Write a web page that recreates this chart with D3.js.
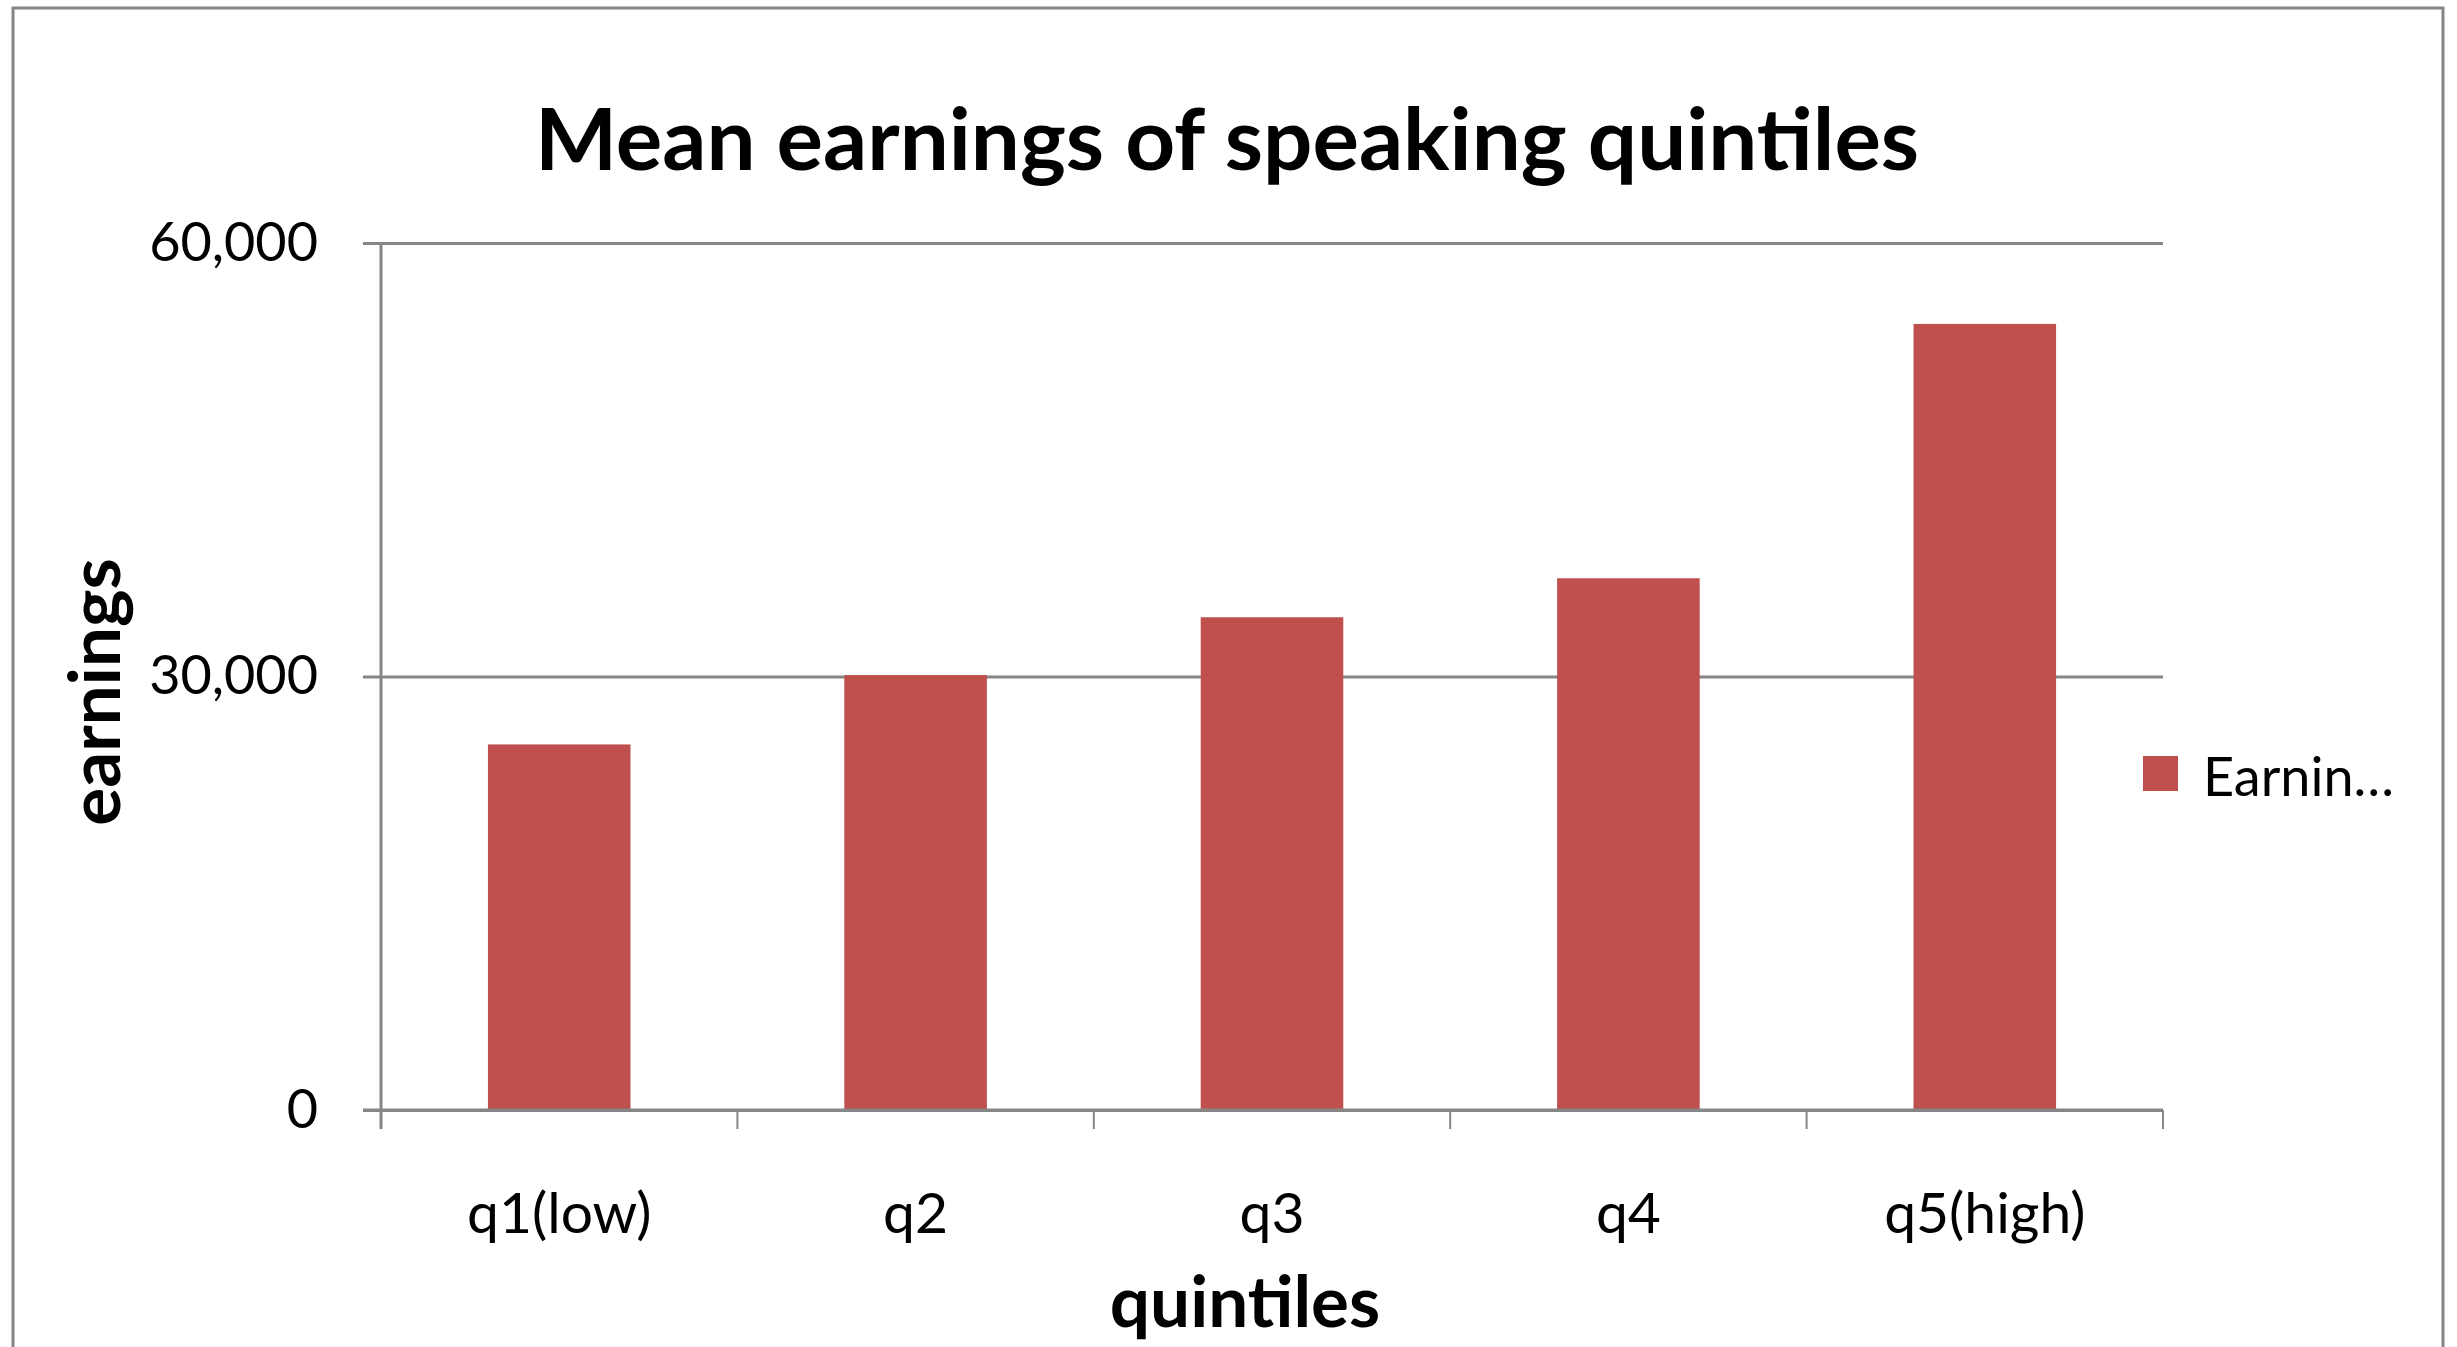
<!DOCTYPE html>
<html lang="en">
<head>
<meta charset="UTF-8">
<title>Mean earnings of speaking quintiles</title>
<script src="https://cdn.jsdelivr.net/npm/d3@7"></script>
<style>
    body { margin: 0; background: #ffffff; }
    svg { display: block; }
</style>
</head>
<body>
<div id="container"></div>
<script>
    // data
    let categories = ["q1(low)", "q2", "q3", "q4", "q5(high)"]
    let earnings = [25300, 30100, 34100, 36800, 54400]
    let yTicks = [0, 30000, 60000]
    let seriesName = "Earnin\u2026"

    let width = 2457
    let height = 1347
    let plotLeft = 381, plotRight = 2163, plotTop = 243, plotBottom = 1110
    let axisColor = "#868686"
    let barColor = "#C0504D"
    let font = "Lato, 'Noto Sans', sans-serif"

    let svg = d3.select("#container")
        .append("svg")
        .attr("width", width)
        .attr("height", height)

    // outer chart frame (bottom edge is cut off in the picture)
    svg.append("path")
        .attr("d", "M13," + height + " V8 H2443 V" + height)
        .attr("fill", "none")
        .attr("stroke", axisColor)
        .attr("stroke-width", 3)

    let x = d3.scaleBand()
        .domain(categories)
        .range([plotLeft, plotRight])
        .paddingInner(0.6)
        .paddingOuter(0.3)

    let y = d3.scaleLinear()
        .domain([0, 60000])
        .range([plotBottom, plotTop])

    // gridlines
    svg.append("g")
        .attr("transform", "translate(" + plotLeft + ",0)")
        .call(d3.axisLeft(y).tickValues(yTicks).tickSize(-(plotRight - plotLeft)).tickFormat(""))
        .call(g => g.select(".domain").remove())
        .call(g => g.selectAll("line").attr("stroke", axisColor).attr("stroke-width", 3))

    // y axis with labels
    svg.append("g")
        .attr("transform", "translate(" + plotLeft + ",0)")
        .call(d3.axisLeft(y).tickValues(yTicks).tickSize(18).tickPadding(45)
            .tickFormat(d3.format(",")))
        .call(g => g.select(".domain").remove())
        .call(g => g.selectAll("line").attr("stroke", axisColor).attr("stroke-width", 3))
        .call(g => g.selectAll("text")
            .attr("font-family", font)
            .attr("font-size", 54)
            .attr("fill", "#000"))

    // vertical axis line
    svg.append("line")
        .attr("x1", plotLeft).attr("x2", plotLeft)
        .attr("y1", plotTop).attr("y2", plotBottom + 19)
        .attr("stroke", axisColor)
        .attr("stroke-width", 3)

    // bars
    svg.selectAll("rect.bar")
        .data(earnings)
        .enter()
        .append("rect")
        .attr("class", "bar")
        .attr("x", (d, i) => x(categories[i]))
        .attr("y", d => y(d))
        .attr("width", x.bandwidth())
        .attr("height", d => y(0) - y(d))
        .attr("fill", barColor)

    // x axis line over the bars' bottom
    svg.append("line")
        .attr("x1", plotLeft - 18).attr("x2", plotRight)
        .attr("y1", plotBottom).attr("y2", plotBottom)
        .attr("stroke", axisColor)
        .attr("stroke-width", 3)

    // category boundary ticks
    let bounds = d3.range(categories.length + 1).map(i => plotLeft + i * x.step())
    svg.selectAll("line.xtick")
        .data(bounds)
        .enter()
        .append("line")
        .attr("class", "xtick")
        .attr("x1", d => d).attr("x2", d => d)
        .attr("y1", plotBottom).attr("y2", plotBottom + 19)
        .attr("stroke", axisColor)
        .attr("stroke-width", 2)

    // category labels
    svg.append("g")
        .attr("transform", "translate(0," + plotBottom + ")")
        .call(d3.axisBottom(x).tickSize(0))
        .call(g => g.select(".domain").remove())
        .call(g => g.selectAll("text")
            .attr("y", 123)
            .attr("dy", null)
            .attr("font-family", font)
            .attr("font-size", 57)
            .attr("fill", "#000"))

    // title
    svg.append("text")
        .attr("x", 1227)
        .attr("y", 170)
        .attr("text-anchor", "middle")
        .attr("font-family", font)
        .attr("font-weight", "bold")
        .attr("font-size", 87)
        .text("Mean earnings of speaking quintiles")

    // axis titles
    svg.append("text")
        .attr("x", 1245)
        .attr("y", 1327)
        .attr("text-anchor", "middle")
        .attr("font-family", font)
        .attr("font-weight", "bold")
        .attr("font-size", 71)
        .text("quintiles")

    svg.append("text")
        .attr("transform", "translate(120,692) rotate(-90)")
        .attr("text-anchor", "middle")
        .attr("font-family", font)
        .attr("font-weight", "bold")
        .attr("font-size", 71)
        .text("earnings")

    // legend
    svg.append("rect")
        .attr("x", 2143)
        .attr("y", 756)
        .attr("width", 35)
        .attr("height", 35)
        .attr("fill", barColor)

    svg.append("text")
        .attr("x", 2203)
        .attr("y", 796)
        .attr("font-family", font)
        .attr("font-size", 54)
        .attr("fill", "#000")
        .text(seriesName)
</script>
</body>
</html>
